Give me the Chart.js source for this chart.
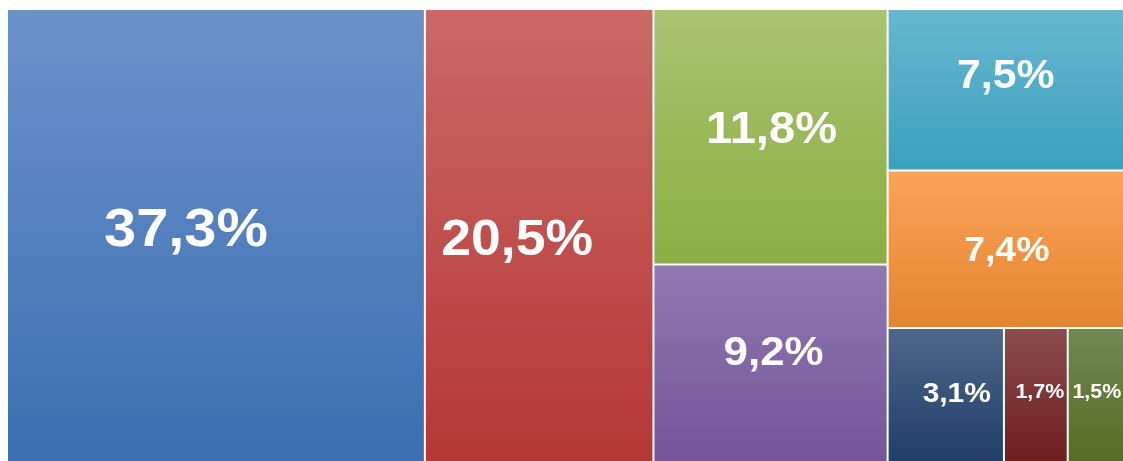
<!DOCTYPE html>
<html>
<head>
<meta charset="utf-8">
<script src="https://cdn.jsdelivr.net/npm/chart.js@4/dist/chart.umd.min.js"></script>
<style>
  html, body { margin: 0; padding: 0; background: #ffffff; }
  #wrap { width: 1123px; height: 461px; }
</style>
</head>
<body>
<div id="wrap"><canvas id="c" width="1123" height="461"></canvas></div>
<script>
// ---- data ----
const categories = ['A', 'B', 'C', 'D', 'E', 'F', 'G', 'H', 'I'];
const shares = [37.3, 20.5, 11.8, 9.2, 7.5, 7.4, 3.1, 1.7, 1.5];
// nesting of the treemap (alternating column / row splits), by index into shares
const layoutTree = [0, 1, [2, 3], [4, 5, [6, 7, 8]]];

// ---- styles ----
const topColors    = ['#6b92ca', '#ca6966', '#a9c36f', '#9079b1', '#68b7d0', '#fba35c', '#506789', '#8b4c4c', '#718854'];
const bottomColors = ['#3b6fb2', '#b53736', '#8aae42', '#75549a', '#3aa1bd', '#e4852d', '#1f3e69', '#6d1f1f', '#556d23'];
const fontSizes    = [54, 50, 44, 41, 40, 35, 28, 20, 20];
const labelNudge   = [[-30, -9], [-22, 2], [1, -9], [3, -13], [0, -16], [1, -1], [11, -3], [4, -4], [1, -4]];
const TEXT_STRETCH = 1.07;
const GAP = 2;

function nodeSum(n) {
  return typeof n === 'number' ? shares[n] : n.reduce((s, c) => s + nodeSum(c), 0);
}
function layoutCells(node, x0, y0, x1, y1, horiz, out) {
  if (typeof node === 'number') { out[node] = { x0, y0, x1, y1 }; return out; }
  const total = nodeSum(node);
  let pos = horiz ? x0 : y0;
  node.forEach(child => {
    const frac = nodeSum(child) / total;
    if (horiz) {
      const nx = pos + (x1 - x0) * frac;
      layoutCells(child, pos, y0, nx, y1, !horiz, out);
      pos = nx;
    } else {
      const ny = pos + (y1 - y0) * frac;
      layoutCells(child, x0, pos, x1, ny, !horiz, out);
      pos = ny;
    }
  });
  return out;
}

class TreemapController extends Chart.DatasetController {
  parse() {}
  update(mode) {
    const meta = this._cachedMeta;
    this.updateElements(meta.data, 0, meta.data.length, mode);
  }
  updateElements(elems, start, count) {
    const meta = this._cachedMeta;
    const xs = meta.xScale, ys = meta.yScale;
    const total = nodeSum(layoutTree);
    const cells = layoutCells(layoutTree, 0, 0, total, total, true, []);
    const ctx = this.chart.ctx;
    for (let i = start; i < start + count; i++) {
      const c = cells[i];
      const l = xs.getPixelForValue(c.x0) + (c.x0 > 1e-9 ? GAP : 0);
      const r = xs.getPixelForValue(c.x1);
      const t = ys.getPixelForValue(c.y0) + (c.y0 > 1e-9 ? GAP : 0);
      const b = ys.getPixelForValue(c.y1);
      const g = ctx.createLinearGradient(0, t, 0, b);
      g.addColorStop(0, topColors[i]);
      g.addColorStop(1, bottomColors[i]);
      Object.assign(elems[i], {
        x: (l + r) / 2, y: t, base: b, width: r - l, height: b - t,
        horizontal: false, inflateAmount: 0, borderSkipped: false,
        options: { backgroundColor: g, borderColor: 'rgba(0,0,0,0)', borderWidth: 0, borderRadius: 0, borderSkipped: false, inflateAmount: 0 }
      });
    }
  }
  draw() {
    super.draw();
    const ctx = this.chart.ctx;
    const data = this.getDataset().data;
    this._cachedMeta.data.forEach((el, i) => {
      const size = fontSizes[i];
      const cx = el.x + labelNudge[i][0];
      const cy = (el.y + el.base) / 2 + labelNudge[i][1];
      const txt = data[i].toFixed(1).replace('.', ',') + '%';
      ctx.save();
      ctx.font = 'bold ' + size + 'px "Liberation Sans", Arial, sans-serif';
      ctx.fillStyle = '#ffffff';
      ctx.textAlign = 'center';
      ctx.textBaseline = 'alphabetic';
      ctx.translate(cx, cy + size * 0.716 / 2);
      ctx.scale(TEXT_STRETCH, 1);
      ctx.fillText(txt, 0, 0);
      ctx.restore();
    });
  }
}
TreemapController.id = 'treemap';
TreemapController.defaults = { dataElementType: 'bar', datasetElementType: false };
Chart.register(TreemapController);

const total = nodeSum(layoutTree);
new Chart(document.getElementById('c'), {
  type: 'treemap',
  data: {
    labels: categories,
    datasets: [{ label: 'Share', data: shares }]
  },
  options: {
    responsive: false,
    animation: false,
    events: [],
    layout: { padding: { left: 8, top: 10, right: 0, bottom: 0 } },
    plugins: { legend: { display: false }, tooltip: { enabled: false } },
    scales: {
      x: { type: 'linear', display: false, min: 0, max: total },
      y: { type: 'linear', display: false, min: 0, max: total, reverse: true }
    }
  }
});
</script>
</body>
</html>
